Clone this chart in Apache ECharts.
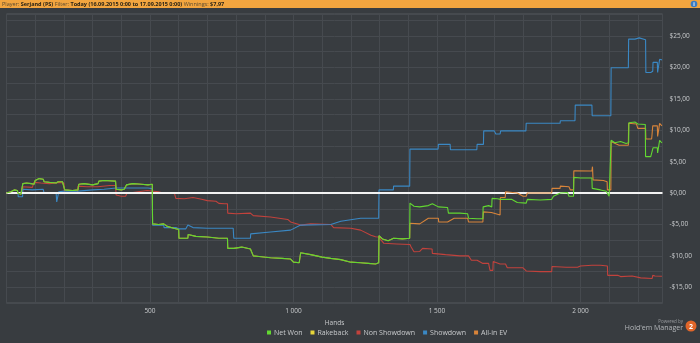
<!DOCTYPE html>
<html>
<head>
<meta charset="utf-8">
<script src="https://cdn.jsdelivr.net/npm/echarts@6/dist/echarts.min.js"></script>
<style>
  html, body { margin: 0; padding: 0; background: #383c40; }
  #chart { width: 700px; height: 343px; }
</style>
</head>
<body>
<div id="chart"></div>
<script>
// Session graph: cumulative winnings per hand, [hand, dollars]
const netWon = [
  [0,0],[15,0.2],[27,0.5],[38,0.4],[40,0],[50,-0.2],[56,-0.2],[57,1.5],[70,1.6],[86,1.5],[90,1.2],[96,1.4],
  [100,2.0],[114,2.3],[128,2.2],[131,1.8],[150,1.7],[173,1.6],[180,1.8],[195,1.8],[201,1.7],[203,0.5],
  [230,0.4],[249,0.5],[252,1.4],[270,1.5],[300,1.3],[319,1.5],[322,1.9],[340,2.0],[380,1.9],[382,0.6],
  [400,0.5],[410,0.6],[418,1.3],[440,1.5],[470,1.4],[493,1.3],[508,1.4],[509,-4.9],[530,-5.0],[548,-4.9],
  [560,-5.3],[583,-5.6],[600,-5.8],[601,-7.2],[632,-7.2],[633,-6.6],[660,-6.9],[700,-7.0],[740,-7.2],
  [770,-7.2],[771,-8.8],[792,-8.8],[820,-8.6],[850,-8.9],[860,-10.0],[880,-10.1],[920,-10.3],[960,-10.4],
  [990,-10.5],[1000,-11.0],[1020,-11.1],[1025,-9.5],[1060,-9.8],[1100,-10.2],[1130,-10.4],[1165,-10.6],
  [1200,-11.0],[1234,-11.1],[1260,-11.2],[1286,-11.3],[1297,-11.1],[1298,-6.8],[1310,-7.3],[1330,-7.6],
  [1349,-7.2],[1380,-7.3],[1405,-7.2],[1406,-1.6],[1420,-2.1],[1440,-2.2],[1470,-2.0],[1484,-1.7],
  [1505,-2.2],[1537,-2.3],[1540,-3.2],[1580,-3.2],[1607,-3.3],[1610,-4.0],[1640,-4.1],[1660,-4.1],
  [1661,-2.2],[1680,-2.0],[1691,-2.2],[1692,-0.85],[1710,-0.9],[1721,-1.0],[1760,-1.0],[1780,-1.5],
  [1811,-1.6],[1815,-1.0],[1860,-1.1],[1900,-1.0],[1906,-0.5],[1930,0.0],[1955,0.1],[1960,-0.5],
  [1976,-0.5],[1977,2.5],[2000,2.4],[2040,2.4],[2041,0.75],[2070,0.5],[2090,0.3],[2094,0.0],[2100,-0.5],
  [2106,-0.7],[2107,8.4],[2120,8.0],[2140,8.2],[2159,7.9],[2168,8.0],[2169,11.2],[2190,11.3],[2200,11.0],
  [2226,10.9],[2227,5.8],[2245,5.8],[2250,6.0],[2253,7.2],[2268,7.2],[2269,6.4],[2274,6.5],[2276,8.4],
  [2284,7.97]
];

const rakeback = [[0,0],[2284,0]];

const nonShowdown = [
  [0,0],[56,0],[57,1.0],[90,0.9],[95,1.0],[96,1.7],[120,1.6],[150,1.5],[180,1.7],[200,1.6],[202,0.0],
  [230,0.1],[248,0.1],[249,1.1],[280,1.0],[318,1.0],[320,1.3],[360,1.2],[380,1.2],[382,-0.3],[400,-0.5],
  [415,-0.5],[420,0.0],[440,0.1],[445,0.4],[490,0.4],[495,0.2],[530,0.2],[545,0.0],[585,0.0],[590,-0.85],
  [620,-0.9],[650,-0.7],[680,-1.0],[700,-1.2],[730,-1.3],[740,-1.65],[760,-1.7],[770,-1.7],[771,-3.2],
  [800,-3.3],[850,-3.2],[860,-3.6],[920,-3.8],[980,-4.2],[990,-4.6],[1025,-5.1],[1060,-4.9],[1130,-5.0],
  [1140,-5.5],[1200,-5.6],[1234,-5.9],[1270,-6.7],[1286,-6.95],[1297,-7.0],[1298,-6.8],[1315,-8.0],
  [1360,-8.1],[1406,-8.2],[1410,-8.6],[1420,-9.35],[1440,-9.3],[1450,-8.8],[1483,-8.9],[1484,-9.6],
  [1530,-9.8],[1580,-10.0],[1610,-10.0],[1620,-10.7],[1640,-10.7],[1660,-11.2],[1680,-11.2],[1685,-12.3],
  [1695,-12.3],[1696,-10.9],[1720,-11.3],[1739,-11.3],[1745,-11.9],[1800,-11.9],[1811,-12.4],[1860,-12.5],
  [1900,-12.5],[1901,-11.7],[1950,-11.8],[1990,-11.8],[2000,-11.6],[2040,-11.5],[2044,-11.3],[2070,-11.5],
  [2094,-11.6],[2095,-13.1],[2130,-13.1],[2140,-13.3],[2180,-13.2],[2210,-13.5],[2250,-13.6],[2252,-13.1],
  [2260,-13.2],[2284,-13.25]
];

const showdown = [
  [0,0],[40,0],[41,-0.6],[56,-0.6],[57,0.6],[90,0.5],[128,0.6],[131,0.0],[173,0.0],[175,-1.4],[180,-1.4],
  [182,0.2],[201,0.3],[250,0.3],[300,0.5],[340,0.6],[382,0.8],[420,0.8],[493,0.8],[508,0.7],[509,-5.1],
  [548,-5.1],[549,-5.5],[590,-5.5],[600,-5.7],[625,-5.7],[632,-5.1],[650,-5.5],[700,-5.6],[790,-5.6],
  [792,-7.2],[850,-7.2],[851,-6.5],[920,-6.2],[990,-5.9],[1025,-5.1],[1130,-5.0],[1165,-4.5],[1234,-4.0],
  [1297,-4.0],[1298,0.5],[1348,0.5],[1349,1.1],[1405,1.1],[1406,7.0],[1504,7.0],[1505,7.75],[1546,7.75],
  [1547,6.9],[1639,6.9],[1640,7.75],[1662,7.75],[1663,9.9],[1700,9.9],[1705,9.4],[1720,9.4],[1722,9.9],
  [1810,9.9],[1811,11.1],[1929,11.1],[1930,11.5],[1981,11.5],[1982,14.0],[2040,14.0],[2041,12.3],
  [2106,12.3],[2107,19.95],[2167,19.95],[2168,24.5],[2190,24.5],[2195,24.7],[2205,24.7],[2208,24.4],
  [2227,24.4],[2228,19.2],[2245,19.2],[2246,19.4],[2252,19.4],[2253,20.8],[2268,20.8],[2269,19.2],
  [2275,19.2],[2276,21.3],[2284,21.2]
];

// All-in EV runs with Net Won until the first all-in adjustment
const allInEvTail = [
  [1406,-4.8],[1440,-4.9],[1470,-4.0],[1505,-4.0],[1506,-4.6],[1537,-4.6],[1538,-4.3],[1560,-4.0],
  [1607,-4.0],[1610,-4.6],[1660,-4.6],[1662,-3.0],[1690,-3.1],[1695,-3.4],[1720,-3.5],[1721,-0.7],
  [1738,-0.7],[1739,0.2],[1780,0.0],[1800,-0.5],[1811,-0.5],[1815,0.0],[1860,0.0],[1900,0.0],[1901,0.75],
  [1929,0.75],[1930,1.1],[1960,1.0],[1965,0.5],[1976,0.5],[1977,3.55],[2040,3.5],[2042,4.2],[2044,2.1],
  [2080,2.0],[2093,1.8],[2094,0.5],[2106,0.5],[2107,8.2],[2125,7.8],[2135,7.6],[2167,7.6],[2168,11.1],
  [2195,11.0],[2200,10.3],[2227,10.3],[2228,8.6],[2248,8.6],[2249,9.0],[2252,10.7],[2268,10.7],
  [2269,9.0],[2276,11.1],[2284,10.7]
];
const allInEv = netWon.filter(p => p[0] <= 1405).concat(allInEvTail);

const seriesNames = ['Net Won', 'Rakeback', 'Non Showdown', 'Showdown', 'All-in EV'];
const seriesColors = ['#62d831', '#e8d63a', '#c2423c', '#3a88c4', '#d8843a'];
const xTickLabels = { 500: '500', 1000: '1 000', 1500: '1 500', 2000: '2 000' };

const FONT = '"Open Sans", "Noto Sans", sans-serif';
const axisText = '#c9cbcd';

function money(v) {
  const s = '$' + Math.abs(v).toFixed(2).replace('.', ',');
  return v < 0 ? '-' + s : s;
}

function line(name, data, z) {
  const i = seriesNames.indexOf(name);
  return {
    name, type: 'line', data, z, symbol: 'none', animation: false,
    lineStyle: { width: 1.1, color: seriesColors[i] },
    itemStyle: { color: seriesColors[i] }
  };
}

const chart = echarts.init(document.getElementById('chart'), null, { renderer: 'canvas' });
chart.setOption({
  backgroundColor: '#383c40',
  animation: false,
  textStyle: { fontFamily: FONT },
  grid: {
    left: 6.5, right: 37.5, top: 14, bottom: 40, show: true,
    borderColor: '#55595d', borderWidth: 1,
    containLabel: false, outerBoundsMode: 'none'
  },
  legend: {
    data: seriesNames, left: 262, bottom: 2, icon: 'rect', itemWidth: 4, itemHeight: 4, itemGap: 8,
    textStyle: { color: axisText, fontSize: 7, fontFamily: FONT, padding: [0, 0, 0, -2] }
  },
  xAxis: {
    type: 'value', min: 0, max: 2286, interval: 100,
    name: 'Hands', nameLocation: 'middle', nameGap: 16,
    nameTextStyle: { color: axisText, fontSize: 6.5, fontFamily: FONT },
    axisLine: { show: false }, axisTick: { show: false },
    axisLabel: {
      color: axisText, fontSize: 6.5, margin: 5, fontFamily: FONT,
      formatter: v => xTickLabels[v] || ''
    },
    splitLine: { lineStyle: { color: '#464a4f', width: 1 } }
  },
  yAxis: {
    type: 'value', position: 'right', min: -17.5, max: 28.5, interval: 2.5,
    name: 'Winnings', nameLocation: 'middle', nameGap: 24, nameRotate: -90,
    nameTextStyle: { color: axisText, fontSize: 6.5, fontFamily: FONT },
    axisLine: { show: false }, axisTick: { show: false },
    axisLabel: {
      color: axisText, fontSize: 6.5, margin: 7, fontFamily: FONT,
      formatter: v => (Math.abs(v % 5) < 1e-9 ? money(v) : '')
    },
    splitLine: { lineStyle: { color: '#464a4f', width: 1 } }
  },
  series: [
    line('Rakeback', rakeback, 2),
    line('Non Showdown', nonShowdown, 3),
    line('Showdown', showdown, 4),
    line('All-in EV', allInEv, 5),
    line('Net Won', netWon, 6),
    {
      type: 'line', data: [], z: 10, silent: true,
      markLine: {
        symbol: 'none', silent: true, label: { show: false },
        lineStyle: { color: '#f2f2f2', width: 2, type: 'solid' },
        data: [{ yAxis: 0 }]
      }
    }
  ],
  graphic: [
    { type: 'rect', shape: { x: 0, y: 0, width: 700, height: 8 }, style: { fill: '#f2a53f' }, z: 20 },
    {
      type: 'text', x: 2, y: 4, z: 21,
      style: {
        text: '{n|Player: }{b|Serjand (PS)}{n| Filter: }{b|Today (16.09.2015 0:00 to 17.09.2015 0:00)}{n| Winnings: }{b|$7,97}',
        verticalAlign: 'middle', fontFamily: FONT,
        rich: {
          n: { fontSize: 5.5, fill: '#5a4a30', fontFamily: FONT },
          b: { fontSize: 5.5, fill: '#2b2416', fontWeight: 'bold', fontFamily: FONT }
        }
      }
    },
    { type: 'circle', shape: { cx: 694, cy: 4, r: 3.3 }, style: { fill: '#3a7cc2' }, z: 21 },
    { type: 'text', x: 694, y: 4.3, z: 22, style: { text: 'i', fill: '#fff', fontSize: 5, fontWeight: 'bold', align: 'center', verticalAlign: 'middle', fontFamily: FONT } },
    { type: 'text', x: 683, y: 322, z: 21, style: { text: 'Powered by', fill: '#9a9da0', fontSize: 4.5, align: 'right', verticalAlign: 'middle', fontFamily: FONT } },
    { type: 'text', x: 683, y: 327.5, z: 21, style: { text: "Hold'em Manager", fill: '#b5b8bb', fontSize: 7, align: 'right', verticalAlign: 'middle', fontFamily: FONT } },
    { type: 'circle', shape: { cx: 691, cy: 326, r: 5.5 }, style: { fill: '#e0662a' }, z: 21 },
    { type: 'text', x: 691, y: 326.5, z: 22, style: { text: '2', fill: '#fff', fontSize: 7, fontWeight: 'bold', align: 'center', verticalAlign: 'middle', fontFamily: FONT } }
  ]
});
</script>
</body>
</html>
